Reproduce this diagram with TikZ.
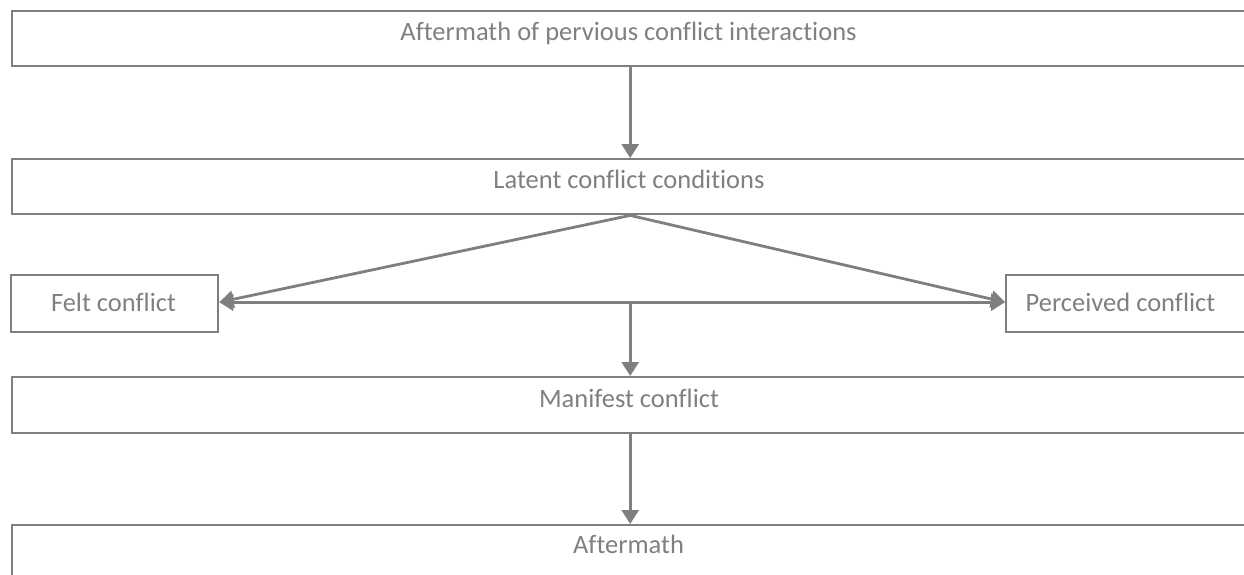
\documentclass[tikz,border=0pt]{standalone}
\usepackage{fontspec}
\setmainfont{Carlito}[Ligatures=NoCommon]
\usetikzlibrary{arrows.meta,calc}
\definecolor{lineGray}{HTML}{7F7F7F}
\definecolor{textGray}{HTML}{808080}
\begin{document}
\begin{tikzpicture}[x=1pt,y=-1pt,
  box/.style={draw=lineGray,line width=2.4pt,inner sep=0pt,anchor=north west,fill=none},
  lbl/.style={anchor=base,inner sep=0pt,text=textGray,font=\fontsize{26.5}{30}\selectfont},
  conn/.style={draw=lineGray,line width=2.8pt,-{Triangle[width=17pt,length=14pt]}},
  dconn/.style={draw=lineGray,line width=2.8pt,{Triangle[width=17pt,length=14pt]}-{Triangle[width=17pt,length=14pt]}}]
\clip (0,0) rectangle (1244,575);
\fill[white] (0,0) rectangle (1244,575);
\node[box,minimum width=1236pt,minimum height=55pt] (prev) at (11,10) {};
\node[box,minimum width=1236pt,minimum height=55pt] (latent) at (11,158) {};
\node[box,minimum width=207pt,minimum height=57pt] (felt) at (10,274) {};
\node[box,minimum width=242pt,minimum height=57pt] (perc) at (1005,274) {};
\node[box,minimum width=1236pt,minimum height=56pt] (manifest) at (11,376) {};
\node[box,minimum width=1236pt,minimum height=80pt] (after) at (11,524) {};
\node[lbl] (tprev) at (628.5,40.5) {Aftermath of pervious conflict interactions};
\node[lbl] (tlatent) at (629,188) {Latent conflict conditions};
\node[lbl] (tfelt) at (113.5,311) {Felt conflict};
\node[lbl] (tperc) at (1120.5,311) {Perceived conflict};
\node[lbl] (tmanifest) at (629,407) {Manifest conflict};
\node[lbl] (tafter) at (628.5,553) {Aftermath};
\coordinate (fe) at ([yshift=1.5pt]felt.east);
\coordinate (pw) at ([yshift=1.5pt]perc.west);
\coordinate (mid) at (latent.south |- fe);
\draw[conn] (prev.south) -- (latent.north);
\draw[conn] (latent.south) -- (fe);
\draw[conn] (latent.south) -- (pw);
\draw[dconn] (fe) -- (pw);
\draw[conn] (mid) -- (manifest.north);
\draw[conn] (manifest.south) -- (after.north);
\end{tikzpicture}
\end{document}
